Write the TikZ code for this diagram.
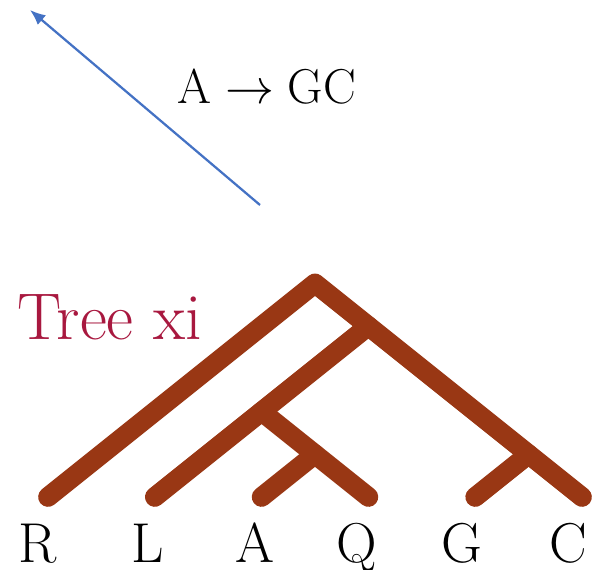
\documentclass[tikz,border=0pt]{standalone}
\usetikzlibrary{arrows.meta}
\definecolor{branchbrown}{RGB}{153,55,20}
\definecolor{treecrimson}{RGB}{168,24,63}
\definecolor{rulesblue}{RGB}{68,114,196}
\tikzset{
  branch/.style={branchbrown, line width=14pt, line cap=round, line join=round},
  leaflab/.style={anchor=base, inner sep=0pt, font=\fontsize{40}{48}\selectfont},
}
\begin{document}
\begin{tikzpicture}
\useasboundingbox (0,0) rectangle (14.95,14.225);
% tree in leaf units
\begin{scope}[shift={(1.2,1.8)}, x=2.67cm, y=2.136cm]
\coordinate (eR) at (0,0);
\coordinate (eL) at (1,0);
\coordinate (eA) at (2,0);
\coordinate (eQ) at (3,0);
\coordinate (eG) at (4,0);
\coordinate (eC) at (5,0);
\coordinate (root) at (2.5,2.5);
\coordinate (nX) at (3,2);
\coordinate (nY) at (2,1);
\coordinate (nV) at (2.5,0.5);
\coordinate (nW) at (4.5,0.5);
\draw[branch] (eR)--(root)--(nX)--(nW)--(eC);
\draw[branch] (nX)--(nY)--(eL);
\draw[branch] (nY)--(nV)--(eQ);
\draw[branch] (nV)--(eA);
\draw[branch] (nW)--(eG);
\end{scope}
% leaf letters
\foreach \lab/\x in {R/0.95, L/3.7, A/6.375, Q/8.925, G/11.55, C/14.2}
  \node[leaflab] (t\lab) at (\x,0.17) {\lab};
\node[treecrimson, font=\fontsize{47}{56}\selectfont] (title) at (2.75,6.3) {Tree xi};
\node[font=\fontsize{24.88}{30}\selectfont, scale=1.4] (rule) at (6.675,12.05) {$\mathrm{A}\rightarrow\mathrm{GC}$};
\coordinate (arrStart) at (6.5,9.1);
\coordinate (arrTip) at (0.75,13.975);
\draw[rulesblue, line width=1.6pt, -{Latex[length=11pt,width=9pt]}] (arrStart)--(arrTip);
\end{tikzpicture}
\end{document}
